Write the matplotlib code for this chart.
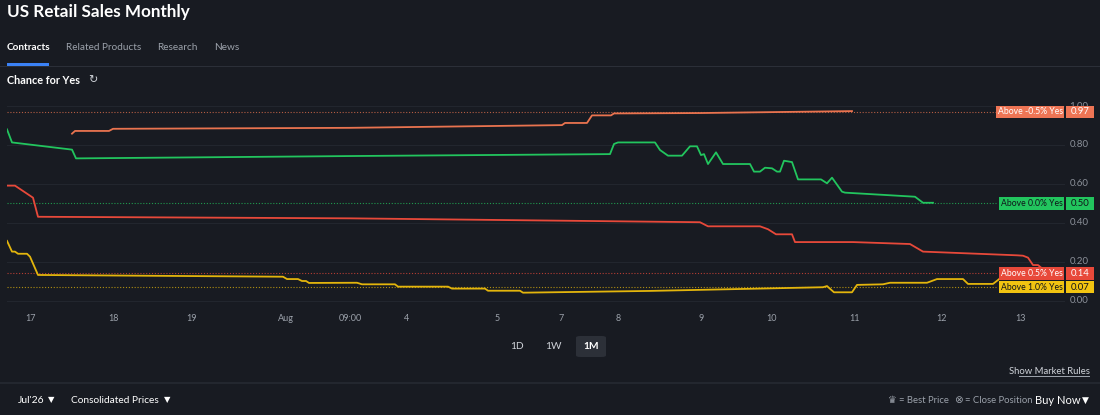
import matplotlib.pyplot as plt
from matplotlib.patches import Rectangle, FancyBboxPatch
from matplotlib.transforms import blended_transform_factory

# time positions are on the chart's own (uneven) time scale
tick_pos = [31, 113, 192, 286, 350, 407, 497, 561, 618, 701, 772, 855, 942, 1021]
tick_labels = ["17", "18", "19", "Aug", "09:00", "4", "5", "7", "8", "9", "10", "11", "12", "13"]

t_m05 = [72, 75, 109, 113, 350, 562, 565, 587, 592, 611, 614, 700, 852]
p_m05 = [0.858, 0.872, 0.872, 0.883, 0.888, 0.902, 0.913, 0.913, 0.952, 0.952, 0.962, 0.964, 0.974]

t_00 = [7, 12, 72, 76, 350, 610, 614, 618, 655, 660, 668, 682, 690, 697, 701, 704, 708, 716,
        723, 750, 754, 760, 765, 772, 777, 780, 784, 792, 798, 821, 827, 832, 842, 845, 915, 923, 933]
p_00 = [0.880, 0.813, 0.776, 0.731, 0.743, 0.753, 0.805, 0.813, 0.813, 0.774, 0.745, 0.745, 0.793,
        0.793, 0.748, 0.753, 0.702, 0.762, 0.702, 0.702, 0.663, 0.663, 0.683, 0.680, 0.663, 0.663,
        0.719, 0.712, 0.623, 0.623, 0.603, 0.632, 0.560, 0.555, 0.534, 0.503, 0.503]

t_05 = [7, 15, 33, 38, 350, 700, 708, 760, 768, 776, 792, 795, 853, 910, 923, 1017, 1023, 1028,
        1033, 1038, 1042]
p_05 = [0.591, 0.591, 0.529, 0.431, 0.423, 0.403, 0.382, 0.382, 0.367, 0.341, 0.341, 0.301, 0.301,
        0.291, 0.252, 0.233, 0.231, 0.221, 0.183, 0.183, 0.166]

t_10 = [7, 12, 15, 18, 27, 30, 38, 283, 287, 298, 302, 306, 309, 357, 362, 395, 398, 448, 452, 485,
        488, 520, 523, 650, 823, 827, 834, 852, 857, 883, 890, 927, 937, 963, 968, 993, 998, 1000]
p_10 = [0.307, 0.252, 0.252, 0.241, 0.241, 0.226, 0.132, 0.123, 0.111, 0.111, 0.101, 0.101, 0.091,
        0.092, 0.084, 0.084, 0.072, 0.072, 0.062, 0.062, 0.051, 0.051, 0.041, 0.050, 0.069, 0.075,
        0.043, 0.043, 0.081, 0.084, 0.092, 0.092, 0.111, 0.111, 0.086, 0.086, 0.106, 0.115]

names = ["Above -0.5% Yes", "Above 0.0% Yes", "Above 0.5% Yes", "Above 1.0% Yes"]
last = [0.97, 0.50, 0.14, 0.07]
line_cols = ["#e9734f", "#22c55e", "#e8493a", "#e3b50c"]
tag_cols = ["#ee7555", "#22c55e", "#e8493a", "#f2c411"]
tag_text = ["white", "#10141a", "white", "#10141a"]

yticks = [0.0, 0.2, 0.4, 0.6, 0.8, 1.0]

BG = "#181b22"
W, H = 1100, 415
plt.rcParams['font.family'] = ['Lato', 'DejaVu Sans']

fig = plt.figure(figsize=(W / 100, H / 100), dpi=100, facecolor=BG)


def fx(px):
    return px / W


def fy(py):
    return 1 - py / H


# header
fig.text(fx(7), fy(12), "US Retail Sales Monthly", color="white", fontsize=12.3,
         fontweight="bold", va="center", ha="left")
fig.text(fx(7), fy(48), "Contracts", color="white", fontsize=7.2, fontweight="bold", va="center")
fig.text(fx(66), fy(48), "Related Products", color="#9ba1aa", fontsize=7.2, va="center")
fig.text(fx(157), fy(48), "Research", color="#9ba1aa", fontsize=7.2, va="center")
fig.text(fx(214), fy(48), "News", color="#9ba1aa", fontsize=7.2, va="center")
fig.add_artist(Rectangle((0, fy(67)), 1, 1 / H, transform=fig.transFigure, color="#2b2f38", lw=0))
fig.add_artist(Rectangle((fx(7), fy(66)), fx(42), 2.5 / H, transform=fig.transFigure,
                         color="#3b82f6", lw=0))
fig.text(fx(7), fy(80.5), "Chance for Yes", color="white", fontsize=7.8, fontweight="bold", va="center")
fig.text(fx(88), fy(80.5), "\u21bb", color="#d0d4da", fontsize=8, va="center",
         family=["DejaVu Sans"])

# chart
ax = fig.add_axes([fx(7), fy(310), fx(1065) - fx(7), (310 - 100) / H])
ax.set_facecolor(BG)
ax.set_xlim(7, 1065)
ax.set_ylim(-0.048, 1.031)
for s in ax.spines.values():
    s.set_visible(False)
for v in yticks:
    ax.axhline(v, color="#22262e", lw=0.8, zorder=0)

series = [(t_m05, p_m05), (t_00, p_00), (t_05, p_05), (t_10, p_10)]
for (t, p), c, v in zip(series, line_cols, last):
    ax.axhline(v, xmax=(996 - 7) / (1065 - 7), color=c, lw=0.8, ls=(0, (1, 1.6)), alpha=0.75, zorder=1)
    ax.plot(t, p, color=c, lw=1.3, zorder=2, solid_joinstyle="round")

ax.set_xticks(tick_pos)
ax.set_xticklabels(tick_labels)
ax.set_yticks([])
ax.tick_params(axis="x", length=0, pad=3, labelsize=6.5, labelcolor="#9ba1aa")

bt = blended_transform_factory(ax.transAxes, ax.transData)
span = 1065 - 7
unit = 1 / 194.7
for v in yticks:
    ax.text((1088.5 - 7) / span, v, "%.2f" % v, transform=bt, ha="right", va="center",
            fontsize=7, color="#8b9099", clip_on=False)

for name, v, tc, txc in zip(names, last, tag_cols, tag_text):
    x0 = 999 if name != names[0] else 996
    h = 12.5 * unit
    ax.add_patch(Rectangle(((x0 - 7) / span, v - h / 2), (1064.3 - x0) / span, h, transform=bt,
                           color=tc, lw=0, clip_on=False, zorder=5))
    ax.add_patch(Rectangle(((1065.7 - 7) / span, v - h / 2), (1094 - 1065.7) / span, h, transform=bt,
                           color=tc, lw=0, clip_on=False, zorder=5))
    ax.text(((x0 + 1064.3) / 2 - 7) / span, v, name, transform=bt, ha="center", va="center",
            fontsize=6.2, color=txc, clip_on=False, zorder=6)
    ax.text((1080 - 7) / span, v, "%.2f" % v, transform=bt, ha="center", va="center", fontsize=6.8,
            color=txc, clip_on=False, zorder=6)

# range buttons
fig.add_artist(FancyBboxPatch((fx(576), fy(357)), fx(30), 21 / H, boxstyle="round,pad=0,rounding_size=0.004",
                              transform=fig.transFigure, color="#2c3038", lw=0))
fig.text(fx(517), fy(346.5), "1D", color="#d0d4da", fontsize=7.3, ha="center", va="center")
fig.text(fx(553), fy(346.5), "1W", color="#d0d4da", fontsize=7.3, ha="center", va="center")
fig.text(fx(591), fy(346.5), "1M", color="white", fontsize=7.3, ha="center", va="center",
         fontweight="bold")

fig.text(fx(1090), fy(371), "Show Market Rules", color="#d0d4da", fontsize=6.8, ha="right", va="center")
fig.add_artist(Rectangle((fx(1019), fy(377)), fx(71), 1 / H, transform=fig.transFigure, color="#9ba1aa", lw=0))
fig.add_artist(Rectangle((0, fy(384)), 1, 2 / H, transform=fig.transFigure, color="#23272f", lw=0))

# bottom bar
fig.text(fx(18), fy(400), "Jul'26", color="white", fontsize=7.5, va="center")
fig.text(fx(48), fy(400), "\u25bc", color="white", fontsize=6, va="center", family=["DejaVu Sans"])
fig.text(fx(71), fy(400), "Consolidated Prices", color="white", fontsize=7.3, va="center")
fig.text(fx(164), fy(400), "\u25bc", color="white", fontsize=6, va="center", family=["DejaVu Sans"])
fig.text(fx(888), fy(400), "\u265b", color="#9ba1aa", fontsize=7, va="center", family=["DejaVu Sans"])
fig.text(fx(899), fy(400), "= Best Price", color="#9ba1aa", fontsize=6.8, va="center")
fig.text(fx(954), fy(400), "\u2297", color="#9ba1aa", fontsize=7.5, va="center", family=["DejaVu Sans"])
fig.text(fx(965), fy(400), "= Close Position", color="#9ba1aa", fontsize=6.8, va="center")
fig.text(fx(1035), fy(400), "Buy Now", color="white", fontsize=8, va="center")
fig.text(fx(1082), fy(400), "\u25bc", color="white", fontsize=6.5, va="center", family=["DejaVu Sans"])

fig.savefig("out.png", dpi=100, facecolor=BG)
